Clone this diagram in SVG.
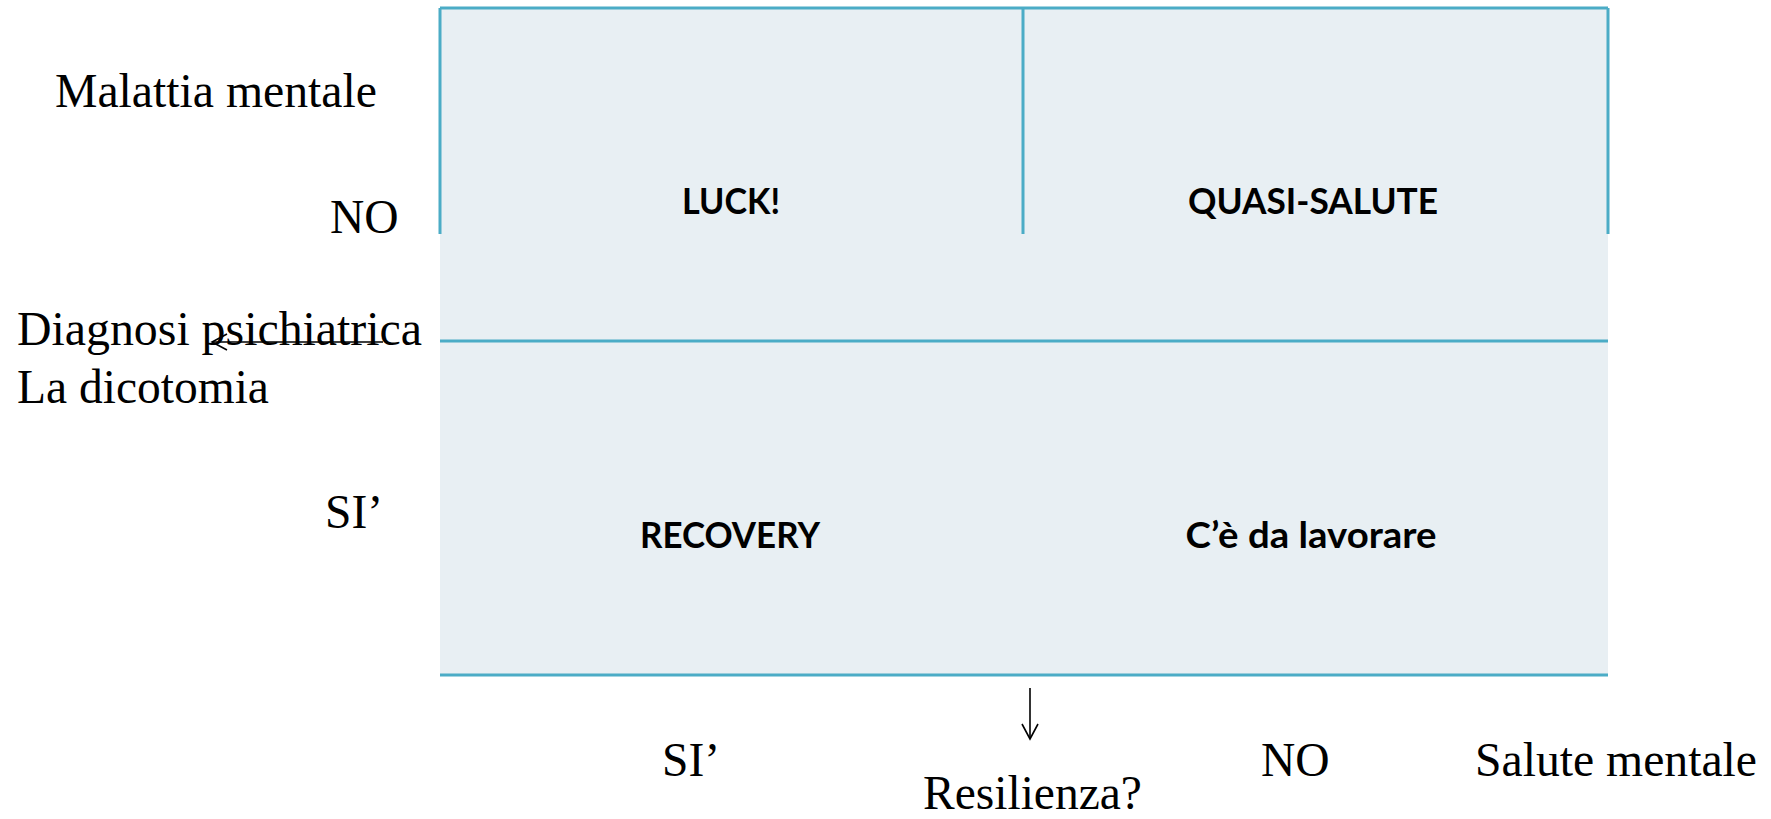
<svg xmlns="http://www.w3.org/2000/svg" width="1771" height="819" viewBox="0 0 1771 819">
<style>
.serif{font-family:"Liberation Serif","Times New Roman",serif;font-size:47.5px;fill:#000}
.lbl{font-family:Lato,"Liberation Sans",sans-serif;font-weight:bold;font-size:36px;fill:#000;text-anchor:middle}
.grid{stroke:#4BACC6;stroke-width:3;fill:none}
.arr{stroke:#000;stroke-width:1.6;fill:none}
</style>
<defs>
<marker id="ah" markerWidth="18" markerHeight="18" refX="16" refY="9" orient="auto" markerUnits="userSpaceOnUse">
<path d="M1,1 L16,9 L1,17" fill="none" stroke="#000" stroke-width="1.6"/>
</marker>
</defs>
<rect x="0" y="0" width="1771" height="819" fill="#fff"/>
<rect x="440" y="8" width="1168" height="667" fill="#E8EFF3"/>
<g id="grid">
<path class="grid" d="M440,8 H1608 M440,8 V234 M1608,8 V234 M1023,8 V234 M440,341 H1608 M440,675 H1608"/>
</g>
<g id="n-luck"><text class="lbl" x="731" y="214" textLength="98" lengthAdjust="spacingAndGlyphs">LUCK!</text></g>
<g id="n-quasi"><text class="lbl" x="1313" y="214" textLength="250" lengthAdjust="spacingAndGlyphs">QUASI-SALUTE</text></g>
<g id="n-recovery"><text class="lbl" x="730" y="548" textLength="180" lengthAdjust="spacingAndGlyphs">RECOVERY</text></g>
<g id="n-lavorare"><text class="lbl" x="1311" y="548" textLength="251" lengthAdjust="spacingAndGlyphs">C’è da lavorare</text></g>
<g id="axis-labels">
<text class="serif" x="55" y="107" textLength="322" lengthAdjust="spacingAndGlyphs">Malattia mentale</text>
<text class="serif" x="330" y="233">NO</text>
<text class="serif" x="17" y="345" textLength="405" lengthAdjust="spacingAndGlyphs">Diagnosi psichiatrica</text>
<text class="serif" x="17" y="403">La dicotomia</text>
<text class="serif" x="325" y="528">SI’</text>
<text class="serif" x="662" y="776">SI’</text>
<text class="serif" x="1261" y="776">NO</text>
<text class="serif" x="1475" y="776" textLength="282" lengthAdjust="spacingAndGlyphs">Salute mentale</text>
<text class="serif" x="923" y="809">Resilienza?</text>
</g>
<g id="connectors">
<line class="arr" x1="383" y1="342" x2="212" y2="342" marker-end="url(#ah)"/>
<line class="arr" x1="1030" y1="688" x2="1030" y2="739" marker-end="url(#ah)"/>
</g>
</svg>
